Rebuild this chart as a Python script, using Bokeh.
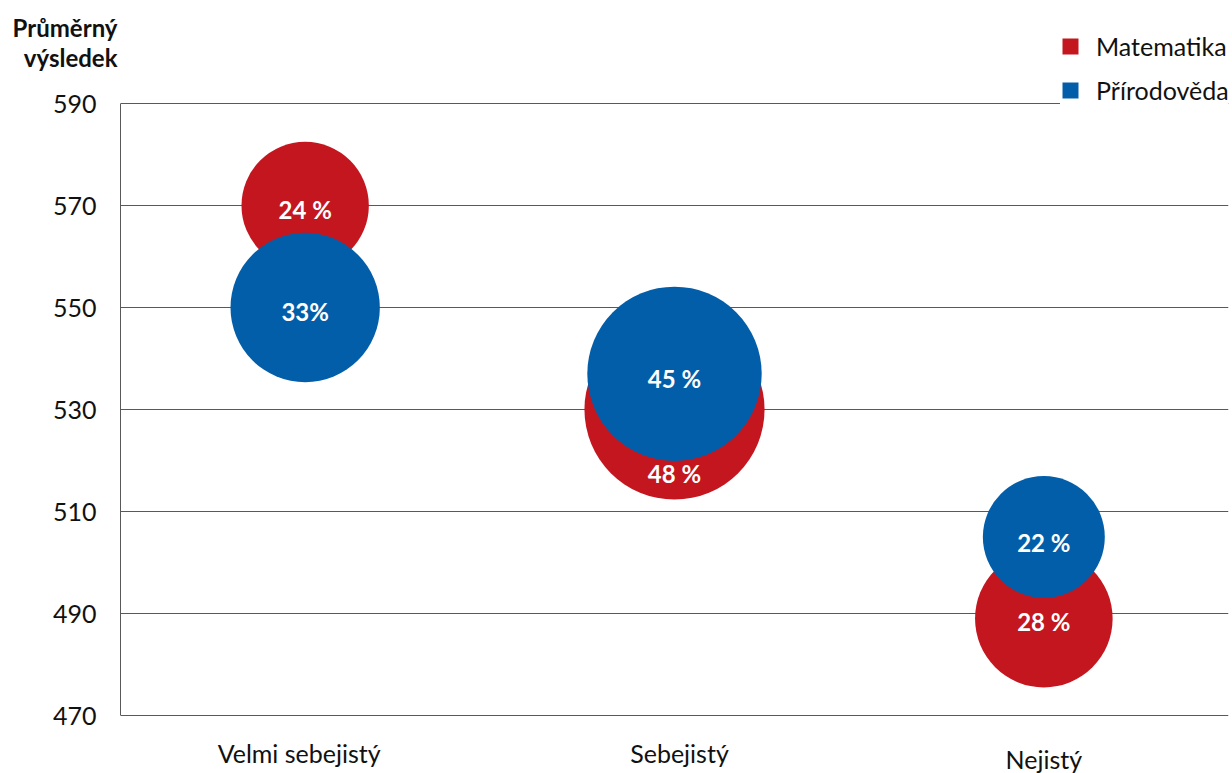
import math
from bokeh.plotting import figure
from bokeh.models import Label, Legend, LegendItem, ColumnDataSource, FixedTicker, Range1d, LinearAxis
from bokeh.embed import file_html
from bokeh.resources import INLINE

# ---- data ----
categories = ["Velmi sebejistý", "Sebejistý", "Nejistý"]
math_score = [570, 530, 489]
math_pct = [24, 48, 28]
math_labels = ["24 %", "48 %", "28 %"]
sci_score = [550, 537, 505]
sci_pct = [33, 45, 22]
sci_labels = ["33%", "45 %", "22 %"]
y_ticks = [470, 490, 510, 530, 550, 570, 590]
series_names = ["Matematika", "Přírodověda"]
y_title = ["Průměrný", "výsledek"]

# ---- style / layout ----
FONT = "Lato"
RED = "#C3161F"
BLUE = "#035EAA"
GRID = "#595959"
TXT = "#111111"
math_label_dy = [4, 64, 3]
sci_label_dy = [4, 5, 5]

W, H = 1232, 773
TOP_PX, BOT_PX = 103, 715          # pixel rows of 590 and 470
Y0, Y1 = 470, 590
PPU = (BOT_PX - TOP_PX) / (Y1 - Y0)  # pixels per unit


def y_at(px):
    return Y1 - (px - TOP_PX) / PPU


xs = list(range(len(categories)))

p = figure(width=W, height=H, output_backend="svg", toolbar_location=None,
           x_range=Range1d(-0.5, 2.5), y_range=Range1d(y_at(H), y_at(0)),
           min_border_left=120, min_border_right=4, min_border_top=0, min_border_bottom=0)
p.outline_line_color = None
p.background_fill_color = "white"


def sizes(pcts):
    return [26 * math.sqrt(v) for v in pcts]


src_m = ColumnDataSource(dict(x=xs, y=math_score, s=sizes(math_pct), t=math_labels, dy=math_label_dy))
src_s = ColumnDataSource(dict(x=xs, y=sci_score, s=sizes(sci_pct), t=sci_labels, dy=sci_label_dy))

p.scatter("x", "y", size="s", source=src_m, fill_color=RED, line_color=None)
p.text("x", "y", text="t", source=src_m, y_offset="dy", text_color="white",
       text_font={"value": FONT}, text_font_style="bold", text_font_size="24px",
       text_align="center", text_baseline="middle")
p.scatter("x", "y", size="s", source=src_s, fill_color=BLUE, line_color=None)
p.text("x", "y", text="t", source=src_s, y_offset="dy", text_color="white",
       text_font={"value": FONT}, text_font_style="bold", text_font_size="24px",
       text_align="center", text_baseline="middle")

# legend proxies (never visible in the plot area)
lm = p.rect(x=[math.nan], y=[math.nan], width=1, height=1, fill_color=RED, line_color=None)
ls = p.rect(x=[math.nan], y=[math.nan], width=1, height=1, fill_color=BLUE, line_color=None)
legend = Legend(items=[LegendItem(label=series_names[0], renderers=[lm]),
                       LegendItem(label=series_names[1], renderers=[ls])],
                location=(940, H - 105), glyph_width=20, glyph_height=20, label_height=30,
                spacing=14, padding=15, margin=0, label_standoff=16,
                label_text_font=FONT, label_text_font_size="25px", label_text_color=TXT,
                border_line_color=None, background_fill_color="white", background_fill_alpha=1)
p.add_layout(legend)

# axes
p.yaxis.bounds = (Y0, Y1)
p.yaxis.ticker = FixedTicker(ticks=y_ticks)
p.yaxis.major_tick_line_color = None
p.yaxis.minor_tick_line_color = None
p.yaxis.major_label_standoff = 18
p.yaxis.major_label_text_font = FONT
p.yaxis.major_label_text_font_size = "25px"
p.yaxis.major_label_text_color = TXT
p.yaxis.axis_line_color = GRID
p.xaxis.visible = False

# axis title as an outer axis whose two labels are the title lines
title_ticks = [605, 599]
tax = LinearAxis(ticker=FixedTicker(ticks=title_ticks),
                 major_label_overrides={title_ticks[0]: y_title[0], title_ticks[1]: y_title[1]},
                 axis_line_color=None, major_tick_line_color=None, minor_tick_line_color=None,
                 major_label_standoff=-74, major_label_text_font=FONT,
                 major_label_text_font_size="24px", major_label_text_font_style="bold",
                 major_label_text_color=TXT)
p.add_layout(tax, "left")

p.ygrid.ticker = FixedTicker(ticks=y_ticks)
p.ygrid.grid_line_color = GRID
p.xgrid.grid_line_color = None

# category labels
cat_px = [752, 752, 758]
cat_dx = [-6, 5, 0]
for x, c, py, dx in zip(xs, categories, cat_px, cat_dx):
    p.add_layout(Label(x=x, y=y_at(py), x_offset=dx, text=c, text_font=FONT, text_font_size="25px",
                       text_color=TXT, text_align="center", text_baseline="middle"))

open("out.html", "w").write(file_html(p, INLINE))
